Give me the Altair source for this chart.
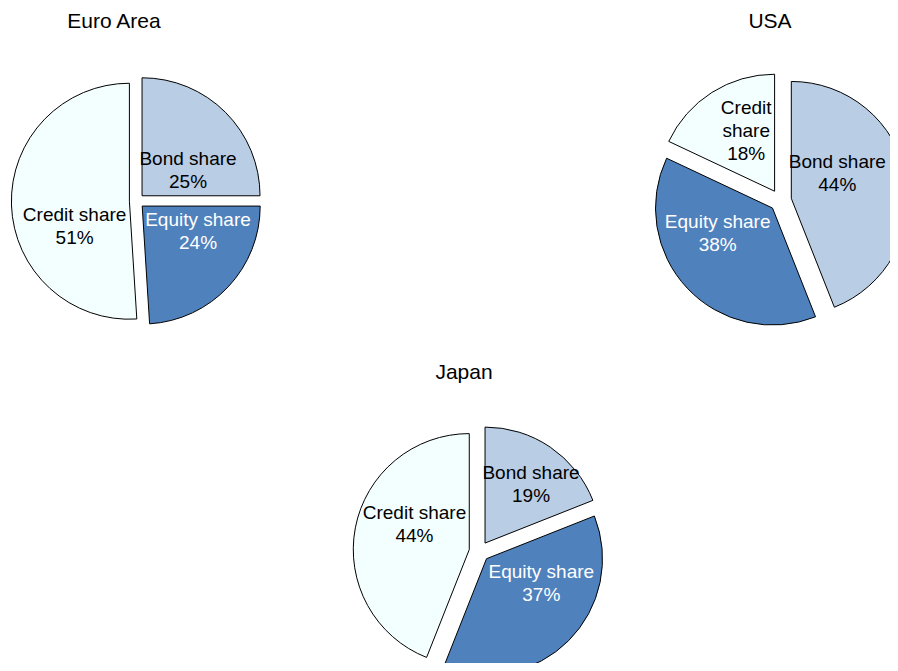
import altair as alt
import pandas as pd

# ---- data ----
regions = ["Euro Area", "USA", "Japan"]
components = ["Bond share", "Equity share", "Credit share"]
euro_shares = [25, 24, 51]
usa_shares = [44, 38, 18]
japan_shares = [19, 37, 44]
# label text as it is wrapped in the picture
euro_labels = ["Bond share", "Equity share", "Credit share"]
usa_labels = ["Bond share", "Equity share", "Credit\nshare"]
japan_labels = ["Bond share", "Equity share", "Credit share"]

shares_by_region = {"Euro Area": euro_shares, "USA": usa_shares, "Japan": japan_shares}
labels_by_region = {"Euro Area": euro_labels, "USA": usa_labels, "Japan": japan_labels}

# ---- styles / layout ----
colors = ["#B9CDE5", "#4F81BD", "#F3FFFF"]
FONT = "Liberation Sans"
LABEL_SIZE = 19
LINE_H = 23
CHAR_W = 8.8
MARGIN = 2
W, H = 882, 655

layout = {
    "Euro Area": dict(cx=128.8, cy=193.0, r=118, d=7.4, tx=106, ty=20),
    "USA": dict(cx=772.5, cy=192.5, r=117, d=11.0, tx=762, ty=20),
    "Japan": dict(cx=471.3, cy=543.5, r=116, d=10.2, tx=456, ty=371),
}


def panel(region):
    p = layout[region]
    labels = labels_by_region[region]
    df = pd.DataFrame({
        "component": components,
        "share": shares_by_region[region],
        "order": list(range(len(components))),
        "label": labels,
        "nchar": [max(len(s) for s in l.split("\n")) for l in labels],
        "nlines": [l.count("\n") + 2 for l in labels],
    })
    base = (
        alt.Chart(df)
        .transform_window(end="sum(share)", sort=[alt.SortField("order")])
        .transform_calculate(start="datum.end - datum.share")
        .transform_calculate(a0="datum.start * 3.6")
        .transform_calculate(a1="datum.end * 3.6")
        .transform_calculate(m="(datum.a0 + datum.a1) / 2")
        .transform_calculate(ax=f"{p['cx']} + {p['d']} * sin(datum.m * PI / 180)")
        .transform_calculate(ay=f"{p['cy']} - {p['d']} * cos(datum.m * PI / 180)")
    )
    arcs = base.mark_arc(stroke="black", strokeWidth=1, radius=p["r"]).encode(
        x=alt.X("ax:Q", scale=None),
        y=alt.Y("ay:Q", scale=None),
        theta=alt.Theta("start:Q", stack=False,
                        scale=alt.Scale(domain=[0, 100], range=[0, 6.283185307])),
        theta2="end:Q",
        color=alt.Color("component:N", scale=alt.Scale(domain=components, range=colors),
                        legend=None),
    )
    txt = (
        base
        .transform_calculate(qi="floor(datum.m / 90)")
        .transform_calculate(q0="datum.qi * 90")
        .transform_calculate(even="datum.qi % 2 == 0")
        .transform_calculate(sx="sin(datum.m * PI / 180) >= 0 ? 1 : -1")
        .transform_calculate(sy="cos(datum.m * PI / 180) >= 0 ? -1 : 1")
        .transform_calculate(w=f"datum.nchar * {CHAR_W}")
        .transform_calculate(h=f"datum.nlines * {LINE_H}")
        .transform_calculate(endcut="datum.a1 < datum.q0 + 89.99")
        .transform_calculate(startcut="datum.a0 > datum.q0 + 0.01")
        .transform_calculate(
            py=f"max({MARGIN}, (datum.endcut && datum.even) ? ({MARGIN} + datum.w) / tan((datum.a1 - datum.q0) * PI / 180) : 0,"
               f" (datum.startcut && !datum.even) ? ({MARGIN} + datum.w) / tan((datum.q0 + 90 - datum.a0) * PI / 180) : 0)")
        .transform_calculate(
            px=f"max({MARGIN}, (datum.endcut && !datum.even) ? ({MARGIN} + datum.h) / tan((datum.a1 - datum.q0) * PI / 180) : 0,"
               f" (datum.startcut && datum.even) ? ({MARGIN} + datum.h) / tan((datum.q0 + 90 - datum.a0) * PI / 180) : 0)")
        .transform_calculate(lx="datum.ax + datum.sx * (datum.px + datum.w / 2)")
        # first line sits at y; shift so the whole block is centred
        .transform_calculate(
            ly=f"datum.ay + datum.sy * (datum.py + datum.h / 2) - (datum.nlines - 1) * {LINE_H} / 2")
        .transform_calculate(txt="datum.label + '\\n' + datum.share + '%'")
        .mark_text(align="center", baseline="middle", lineBreak="\n",
                   font=FONT, fontSize=LABEL_SIZE, lineHeight=LINE_H)
        .encode(
            x=alt.X("lx:Q", scale=None),
            y=alt.Y("ly:Q", scale=None),
            text="txt:N",
            color=alt.condition("datum.component === 'Equity share'",
                                alt.value("white"), alt.value("black")),
        )
    )
    title = (
        alt.Chart(pd.DataFrame({"region": [region]}))
        .mark_text(align="center", baseline="alphabetic", font=FONT, fontSize=21, color="black")
        .encode(text="region:N", x=alt.value(p["tx"]), y=alt.value(p["ty"]))
    )
    return [arcs, txt, title]


layers = []
for reg in regions:
    layers.extend(panel(reg))

chart = (
    alt.layer(*layers)
    .properties(width=W, height=H, padding=0, background="white",
                autosize=alt.AutoSizeParams(type="none"))
    .configure_view(stroke=None)
)

chart.save("out.html", embed_options={"renderer": "svg", "actions": False})
